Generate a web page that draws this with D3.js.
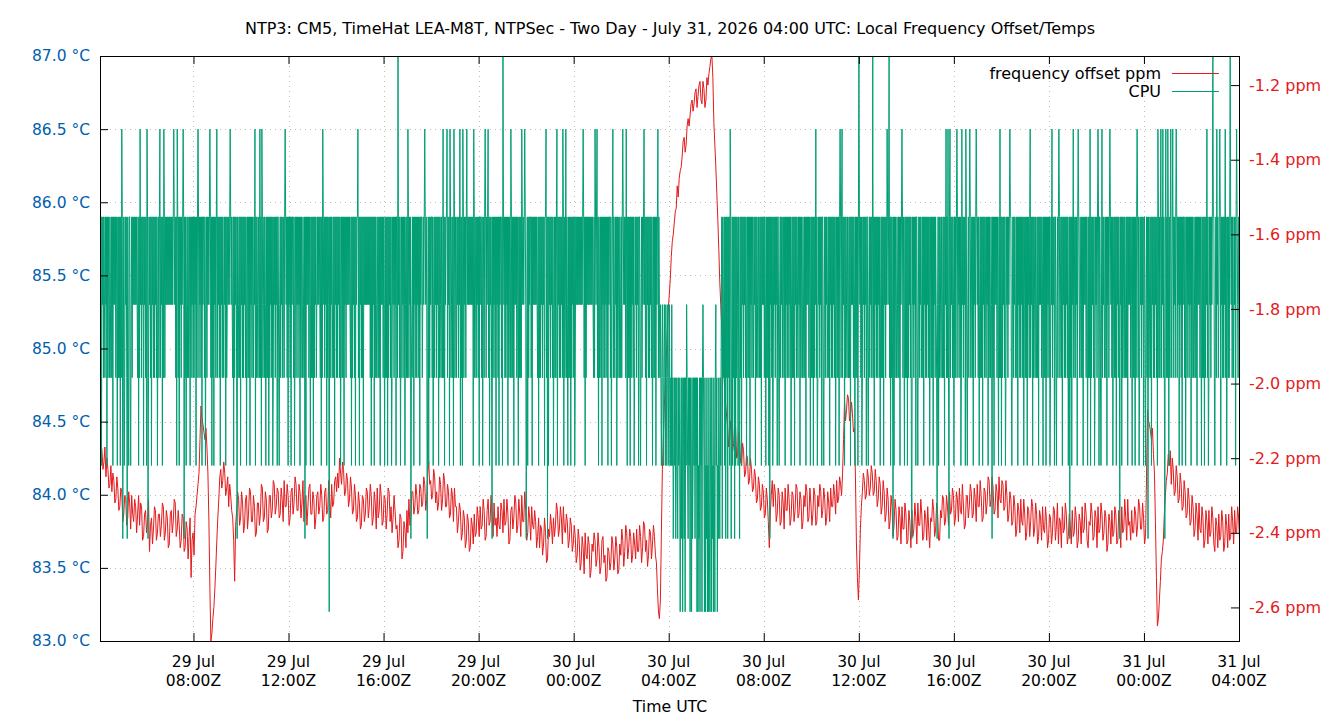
<!DOCTYPE html>
<html>
<head>
<meta charset="utf-8">
<script src="https://cdn.jsdelivr.net/npm/d3@7"></script>
<style>
body { margin: 0; background: #fff; }
text { font-family: "DejaVu Sans", sans-serif; }
</style>
</head>
<body>
<svg id="chart" width="1340" height="720"></svg>
<script>
var title = "NTP3: CM5, TimeHat LEA-M8T, NTPSec - Two Day - July 31, 2026 04:00 UTC: Local Frequency Offset/Temps";
var xLabel = "Time UTC";
var startTime = "2026-07-29T04:04:00Z",
    endTime = "2026-07-31T04:00:00Z";

var xTicks = ["2026-07-29T08:00:00Z", "2026-07-29T12:00:00Z", "2026-07-29T16:00:00Z",
              "2026-07-29T20:00:00Z", "2026-07-30T00:00:00Z", "2026-07-30T04:00:00Z",
              "2026-07-30T08:00:00Z", "2026-07-30T12:00:00Z", "2026-07-30T16:00:00Z",
              "2026-07-30T20:00:00Z", "2026-07-31T00:00:00Z", "2026-07-31T04:00:00Z"];
var tempTicks = [83.0, 83.5, 84.0, 84.5, 85.0, 85.5, 86.0, 86.5, 87.0];
var ppmTicks = [-2.6, -2.4, -2.2, -2.0, -1.8, -1.6, -1.4, -1.2];
var legendNames = ["frequency offset ppm", "CPU"];
var legendColors = ["#e41a1c", "#009e73"];

// frequency offset (ppm), one sample every 2.5 minutes from startTime
var freqStepMin = 2.5;
var freqPpm = [
-2.22,-2.16,-2.18,-2.23,-2.21,-2.17,-2.25,-2.20,-2.23,-2.28,-2.27,-2.22,-2.29,-2.24,-2.26,-2.32,-2.31,-2.25,-2.28,-2.34,
-2.33,-2.28,-2.29,-2.37,-2.35,-2.30,-2.31,-2.38,-2.36,-2.29,-2.32,-2.39,-2.30,-2.35,-2.37,-2.31,-2.33,-2.40,-2.35,-2.30,
-2.38,-2.32,-2.33,-2.42,-2.41,-2.35,-2.34,-2.40,-2.37,-2.31,-2.45,-2.38,-2.36,-2.43,-2.39,-2.33,-2.34,-2.42,-2.40,-2.35,
-2.35,-2.41,-2.38,-2.32,-2.33,-2.42,-2.40,-2.34,-2.36,-2.44,-2.43,-2.35,-2.34,-2.40,-2.37,-2.31,-2.32,-2.41,-2.39,-2.34,
-2.38,-2.44,-2.42,-2.35,-2.36,-2.45,-2.44,-2.37,-2.39,-2.47,-2.41,-2.36,-2.52,-2.42,-2.40,-2.46,-2.35,-2.33,-2.30,-2.27,
-2.24,-2.15,-2.06,-2.09,-2.11,-2.13,-2.15,-2.12,-2.17,-2.24,-2.37,-2.55,-2.69,-2.67,-2.63,-2.60,-2.55,-2.49,-2.42,-2.36,
-2.31,-2.25,-2.23,-2.28,-2.26,-2.21,-2.24,-2.30,-2.28,-2.25,-2.33,-2.27,-2.30,-2.34,-2.36,-2.42,-2.53,-2.38,-2.34,-2.29,
-2.31,-2.38,-2.36,-2.29,-2.32,-2.40,-2.38,-2.31,-2.30,-2.39,-2.35,-2.28,-2.29,-2.37,-2.37,-2.30,-2.33,-2.41,-2.40,-2.32,
-2.32,-2.38,-2.35,-2.27,-2.28,-2.37,-2.36,-2.29,-2.31,-2.40,-2.39,-2.30,-2.30,-2.36,-2.34,-2.26,-2.27,-2.35,-2.33,-2.28,
-2.29,-2.36,-2.35,-2.28,-2.31,-2.37,-2.26,-2.33,-2.33,-2.27,-2.30,-2.38,-2.36,-2.29,-2.28,-2.35,-2.32,-2.25,-2.27,-2.34,
-2.34,-2.27,-2.29,-2.36,-2.32,-2.26,-2.37,-2.31,-2.30,-2.38,-2.33,-2.28,-2.27,-2.35,-2.35,-2.29,-2.31,-2.39,-2.36,-2.30,
-2.29,-2.35,-2.33,-2.27,-2.30,-2.37,-2.36,-2.29,-2.28,-2.35,-2.34,-2.26,-2.31,-2.36,-2.27,-2.33,-2.32,-2.26,-2.25,-2.29,
-2.24,-2.28,-2.20,-2.24,-2.27,-2.21,-2.23,-2.30,-2.29,-2.24,-2.26,-2.33,-2.31,-2.25,-2.28,-2.35,-2.34,-2.27,-2.30,-2.37,
-2.36,-2.29,-2.32,-2.39,-2.38,-2.30,-2.31,-2.37,-2.35,-2.28,-2.29,-2.36,-2.33,-2.27,-2.30,-2.38,-2.36,-2.29,-2.32,-2.39,
-2.28,-2.36,-2.34,-2.27,-2.30,-2.38,-2.37,-2.30,-2.31,-2.39,-2.35,-2.28,-2.29,-2.37,-2.33,-2.40,-2.36,-2.30,-2.34,-2.39,
-2.38,-2.44,-2.42,-2.35,-2.36,-2.47,-2.45,-2.37,-2.39,-2.44,-2.34,-2.40,-2.31,-2.38,-2.36,-2.29,-2.29,-2.35,-2.33,-2.27,
-2.30,-2.35,-2.34,-2.27,-2.28,-2.33,-2.32,-2.25,-2.27,-2.34,-2.31,-2.24,-2.21,-2.27,-2.26,-2.31,-2.30,-2.23,-2.25,-2.32,
-2.29,-2.34,-2.32,-2.25,-2.27,-2.34,-2.31,-2.24,-2.26,-2.33,-2.33,-2.27,-2.29,-2.36,-2.35,-2.28,-2.30,-2.37,-2.28,-2.33,
-2.33,-2.40,-2.37,-2.32,-2.34,-2.42,-2.40,-2.34,-2.36,-2.44,-2.42,-2.35,-2.37,-2.45,-2.44,-2.36,-2.38,-2.43,-2.35,-2.41,
-2.40,-2.33,-2.36,-2.41,-2.33,-2.39,-2.38,-2.31,-2.34,-2.42,-2.41,-2.34,-2.31,-2.38,-2.37,-2.30,-2.35,-2.41,-2.32,-2.38,
-2.36,-2.41,-2.33,-2.38,-2.39,-2.32,-2.34,-2.40,-2.31,-2.38,-2.37,-2.31,-2.35,-2.43,-2.42,-2.34,-2.33,-2.39,-2.36,-2.30,
-2.32,-2.40,-2.38,-2.31,-2.35,-2.41,-2.30,-2.37,-2.37,-2.29,-2.34,-2.42,-2.40,-2.33,-2.36,-2.42,-2.33,-2.38,-2.39,-2.34,
-2.37,-2.44,-2.41,-2.36,-2.44,-2.38,-2.39,-2.46,-2.43,-2.36,-2.40,-2.48,-2.47,-2.39,-2.41,-2.35,-2.38,-2.43,-2.36,-2.41,
-2.38,-2.32,-2.34,-2.41,-2.39,-2.33,-2.36,-2.43,-2.33,-2.39,-2.40,-2.35,-2.37,-2.44,-2.42,-2.36,-2.38,-2.45,-2.43,-2.38,
-2.41,-2.48,-2.46,-2.39,-2.42,-2.50,-2.48,-2.41,-2.44,-2.51,-2.40,-2.46,-2.47,-2.41,-2.43,-2.52,-2.50,-2.43,-2.45,-2.40,
-2.42,-2.49,-2.47,-2.40,-2.44,-2.51,-2.49,-2.42,-2.41,-2.48,-2.46,-2.53,-2.52,-2.44,-2.45,-2.50,-2.48,-2.41,-2.43,-2.50,
-2.47,-2.41,-2.44,-2.51,-2.50,-2.43,-2.46,-2.39,-2.42,-2.49,-2.45,-2.38,-2.40,-2.47,-2.44,-2.39,-2.41,-2.48,-2.46,-2.40,
-2.43,-2.47,-2.39,-2.45,-2.45,-2.38,-2.41,-2.48,-2.44,-2.37,-2.38,-2.45,-2.42,-2.49,-2.46,-2.39,-2.40,-2.47,-2.43,-2.38,
-2.41,-2.46,-2.48,-2.55,-2.61,-2.63,-2.58,-2.40,-2.23,-2.14,-2.06,-1.99,-1.93,-1.86,-1.80,-1.76,-1.72,-1.66,-1.62,-1.60,
-1.57,-1.54,-1.53,-1.47,-1.50,-1.45,-1.43,-1.42,-1.39,-1.35,-1.34,-1.38,-1.36,-1.31,-1.29,-1.31,-1.28,-1.25,-1.24,-1.27,
-1.25,-1.22,-1.21,-1.26,-1.23,-1.20,-1.19,-1.24,-1.25,-1.19,-1.21,-1.26,-1.24,-1.18,-1.20,-1.17,-1.15,-1.13,-1.12,-1.18,
-1.30,-1.36,-1.42,-1.49,-1.56,-1.64,-1.73,-1.79,-1.85,-1.91,-1.97,-2.02,-2.06,-2.09,-2.12,-2.17,-2.15,-2.10,-2.13,-2.18,
-2.16,-2.11,-2.12,-2.20,-2.19,-2.13,-2.15,-2.21,-2.22,-2.16,-2.18,-2.25,-2.24,-2.19,-2.20,-2.27,-2.26,-2.20,-2.23,-2.29,
-2.28,-2.23,-2.25,-2.32,-2.31,-2.25,-2.27,-2.34,-2.33,-2.27,-2.29,-2.36,-2.35,-2.28,-2.31,-2.37,-2.44,-2.35,-2.30,-2.26,
-2.33,-2.27,-2.29,-2.37,-2.35,-2.28,-2.30,-2.38,-2.37,-2.29,-2.32,-2.39,-2.28,-2.34,-2.34,-2.27,-2.31,-2.38,-2.36,-2.29,
-2.30,-2.37,-2.34,-2.27,-2.28,-2.36,-2.35,-2.29,-2.31,-2.39,-2.37,-2.30,-2.33,-2.27,-2.29,-2.37,-2.36,-2.28,-2.32,-2.38,
-2.35,-2.28,-2.30,-2.38,-2.37,-2.30,-2.33,-2.27,-2.29,-2.36,-2.34,-2.28,-2.31,-2.38,-2.36,-2.29,-2.32,-2.37,-2.28,-2.33,
-2.33,-2.27,-2.30,-2.35,-2.26,-2.32,-2.31,-2.25,-2.27,-2.30,-2.24,-2.15,-2.05,-2.10,-2.07,-2.03,-2.04,-2.10,-2.09,-2.05,
-2.08,-2.13,-2.12,-2.25,-2.43,-2.52,-2.58,-2.50,-2.39,-2.33,-2.29,-2.24,-2.26,-2.31,-2.30,-2.23,-2.25,-2.30,-2.28,-2.22,
-2.24,-2.30,-2.29,-2.23,-2.26,-2.33,-2.31,-2.25,-2.27,-2.35,-2.33,-2.26,-2.29,-2.37,-2.35,-2.28,-2.31,-2.39,-2.37,-2.30,
-2.33,-2.41,-2.38,-2.31,-2.34,-2.42,-2.41,-2.33,-2.36,-2.43,-2.33,-2.39,-2.39,-2.32,-2.35,-2.43,-2.42,-2.34,-2.37,-2.44,
-2.34,-2.41,-2.39,-2.32,-2.36,-2.43,-2.32,-2.38,-2.38,-2.31,-2.35,-2.42,-2.41,-2.34,-2.36,-2.42,-2.33,-2.39,-2.44,-2.36,
-2.37,-2.31,-2.34,-2.41,-2.39,-2.32,-2.35,-2.42,-2.42,-2.34,-2.36,-2.30,-2.31,-2.38,-2.37,-2.30,-2.33,-2.38,-2.29,-2.35,
-2.34,-2.28,-2.30,-2.38,-2.36,-2.29,-2.31,-2.37,-2.28,-2.34,-2.35,-2.27,-2.32,-2.39,-2.38,-2.30,-2.30,-2.36,-2.33,-2.27,
-2.29,-2.36,-2.35,-2.28,-2.31,-2.37,-2.27,-2.33,-2.33,-2.26,-2.30,-2.37,-2.36,-2.28,-2.29,-2.35,-2.32,-2.25,-2.26,-2.33,
-2.31,-2.25,-2.28,-2.35,-2.34,-2.27,-2.29,-2.36,-2.25,-2.31,-2.32,-2.26,-2.27,-2.34,-2.33,-2.26,-2.30,-2.37,-2.35,-2.29,
-2.31,-2.38,-2.37,-2.30,-2.33,-2.41,-2.39,-2.32,-2.34,-2.40,-2.31,-2.37,-2.38,-2.31,-2.35,-2.42,-2.40,-2.33,-2.34,-2.41,
-2.37,-2.31,-2.33,-2.41,-2.39,-2.32,-2.35,-2.43,-2.41,-2.34,-2.36,-2.42,-2.33,-2.39,-2.40,-2.33,-2.37,-2.44,-2.42,-2.35,
-2.36,-2.43,-2.40,-2.33,-2.34,-2.42,-2.38,-2.32,-2.43,-2.36,-2.37,-2.44,-2.33,-2.40,-2.39,-2.32,-2.35,-2.43,-2.41,-2.35,
-2.38,-2.43,-2.34,-2.41,-2.40,-2.33,-2.36,-2.44,-2.42,-2.35,-2.37,-2.43,-2.33,-2.40,-2.39,-2.32,-2.35,-2.42,-2.44,-2.37,
-2.38,-2.32,-2.35,-2.42,-2.41,-2.34,-2.36,-2.44,-2.33,-2.40,-2.39,-2.32,-2.35,-2.42,-2.40,-2.34,-2.36,-2.45,-2.43,-2.35,
-2.37,-2.43,-2.34,-2.41,-2.40,-2.33,-2.35,-2.43,-2.42,-2.34,-2.38,-2.44,-2.33,-2.40,-2.39,-2.31,-2.36,-2.42,-2.31,-2.38,
-2.37,-2.42,-2.34,-2.40,-2.40,-2.33,-2.35,-2.41,-2.38,-2.31,-2.33,-2.39,-2.39,-2.32,-2.36,-2.43,-2.41,-2.25,-2.07,-2.10,
-2.11,-2.13,-2.15,-2.12,-2.19,-2.24,-2.37,-2.52,-2.65,-2.63,-2.58,-2.53,-2.47,-2.45,-2.42,-2.35,-2.30,-2.26,-2.24,-2.19,
-2.22,-2.18,-2.27,-2.20,-2.23,-2.30,-2.29,-2.22,-2.25,-2.32,-2.31,-2.24,-2.27,-2.34,-2.33,-2.26,-2.29,-2.36,-2.35,-2.28,
-2.31,-2.38,-2.37,-2.30,-2.33,-2.41,-2.39,-2.32,-2.35,-2.42,-2.32,-2.39,-2.40,-2.33,-2.36,-2.44,-2.42,-2.34,-2.37,-2.43,
-2.34,-2.41,-2.40,-2.33,-2.36,-2.43,-2.45,-2.36,-2.38,-2.44,-2.35,-2.42,-2.41,-2.34,-2.37,-2.45,-2.43,-2.35,-2.38,-2.44,
-2.35,-2.42,-2.41,-2.33,-2.37,-2.43,-2.34,-2.40,-2.40,-2.33,-2.36,-2.42
];

// CPU temperature, one sample every 1.25 minutes, stored as an index into cpuLevels
var cpuStepMin = 1.25;
var cpuLevels = [83.2, 83.7, 84.2, 84.8, 85.3, 85.9, 86.5, 87.1];
var cpuRows = [
"5352545354 3545253543 5435352545 4535425353 5253651352 3545315325 5324535454 5454543525 3645354525 4535265135",
"4535254535 3545352453 5635452536 5354545454 5454545456 5453526535 2545354565 1535245353 4525354535 3545253565",
"3545352545 5352453545 4565352535 2545356354 5352545354 3545253454 5456545435 2535453153 4535254535 3545352453",
"5352545354 3546253543 5436352653 4535425353 5253545352 3545354525 5324535453 4535654535 2545352545 5352453545",
"3545253543 5435152545 4535425353 5253545345 4545435253 6545354525 3540535453 4535254535 3545352453 5352545354",
"5454543525 3545352545 5635254535 3525454545 4545453525 3545253543 5435352545 4535425353 5253545352 3545354525",
"5374535245 3545352453 5365354513 4535254535 3545352545 5345456545 4135253545 5352453545 3545253543 5436352545",
"5635452653 4535265354 3545354625 3526535453 5645454545 4545265354 3545352545 5352453565 3545635254 5315354535",
"2545352545 5352754535 3545253543 6535352545 4535425353 5365454565 4135253545 5352545454 5454352535 3545354525",
"5635152545 3545352453 5356254535 3545365253 4635425353 5253545352 3545454545 4545456535 2535454545 4545454353",
"6545635253 4535254535 3545352545 5352456354 3545253543 5435356545 4536425353 5253545352 3545354525 5324535456",
"4535254535 3545352453 5352545635 4343234323 4324323432 4323242312 3231232132 3202313023 1303243213 2303203123",
"2313230302 1303230343 2030213020 3102303120 3203423021 3213245153 4525153515 3526513525 3515253542 5315352545",
"3545352453 5352545354 3545253543 5435352545 4535425353 5251545352 3545354525 5324535453 4535254535 3545352453",
"5352545354 3545253543 5435352545 4535425353 5253546352 3545354525 5324535453 4535254535 3545352453 5352565356",
"3545253543 5435352545 4535425353 5257545352 3545354525 5324535453 4735254535 3545352453 5352545354 6545735253",
"5315253543 5435352545 6535425353 5253545352 1545354525 5324535453 4535254535 3545352453 5352545354 3145253543",
"5435352546 3536315635 4535425353 5653545352 3645354526 5324535653 4535254535 6545352453 5352545354 3545253543",
"5415352545 4535425363 5253545352 3545354565 5324535453 4535254535 3545352453 5352545356 3545253543 5435352545",
"4535425353 5253545352 3546354525 5324535653 4535254535 3545352451 5352546354 3545256543 5435352545 4535425353",
"6253545352 3545356525 5324635453 4535254535 6545352453 5352545354 1545253543 5435352545 4535425353 5253565352",
"3545354525 5324535153 4535254535 3545352653 5356354635 3156353652 5356345635 4535653545 2545352545 5352453545",
"3545253543 5435352545 4535425353 5253546352 3545354575 5324536453 4565254535 3546352453 5357545354 3545256543",
"54"
];
var cpuCodes = cpuRows.join("").replace(/ /g, "");

var svg = d3.select("#chart");
var margin = {top: 56, right: 101, bottom: 79, left: 100},
    width = 1340 - margin.left - margin.right,
    height = 720 - margin.top - margin.bottom;

var g = svg.append("g")
    .attr("transform", "translate(" + margin.left + "," + margin.top + ")");

var t0 = new Date(startTime).getTime();
var x = d3.scaleUtc()
    .domain([new Date(startTime), new Date(endTime)])
    .range([0, width]);
var yTemp = d3.scaleLinear().domain([83, 87]).range([height, 0]);
var yPpm = d3.scaleLinear().domain([-2.69, -1.122]).range([height, 0]);

var freqData = freqPpm.map(function(v, i) {
    return {t: new Date(t0 + i * freqStepMin * 60000), v: v};
});
var cpuData = cpuCodes.split("").map(function(c, i) {
    return {t: new Date(t0 + i * cpuStepMin * 60000), v: cpuLevels[+c]};
});

// grid
g.append("g")
    .selectAll("line")
    .data(tempTicks.slice(1, -1))
    .join("line")
    .attr("x1", 0).attr("x2", width)
    .attr("y1", function(d) { return Math.round(yTemp(d)) + 0.5; })
    .attr("y2", function(d) { return Math.round(yTemp(d)) + 0.5; })
    .attr("stroke", "#bdbdbd")
    .attr("stroke-dasharray", "1,4");
g.append("g")
    .selectAll("line")
    .data(xTicks.slice(0, -1))
    .join("line")
    .attr("x1", function(d) { return Math.round(x(new Date(d))) + 0.5; })
    .attr("x2", function(d) { return Math.round(x(new Date(d))) + 0.5; })
    .attr("y1", 0).attr("y2", height)
    .attr("stroke", "#bdbdbd")
    .attr("stroke-dasharray", "1,4");

g.append("clipPath").attr("id", "plotclip")
  .append("rect").attr("width", width).attr("height", height);

// frequency offset
g.append("path")
    .datum(freqData)
    .attr("clip-path", "url(#plotclip)")
    .attr("fill", "none")
    .attr("stroke", legendColors[0])
    .attr("stroke-width", 1)
    .attr("d", d3.line().x(function(d) { return x(d.t); }).y(function(d) { return yPpm(d.v); }));

// CPU temperature
g.append("path")
    .datum(cpuData)
    .attr("clip-path", "url(#plotclip)")
    .attr("fill", "none")
    .attr("stroke", legendColors[1])
    .attr("stroke-width", 1)
    .attr("d", d3.line().x(function(d) { return x(d.t); }).y(function(d) { return yTemp(d.v); }));

// left axis
g.append("g")
    .call(d3.axisLeft(yTemp).tickValues(tempTicks)
        .tickFormat(function(d) { return d.toFixed(1) + " °C"; })
        .tickSizeInner(-8).tickSizeOuter(0).tickPadding(10))
    .call(function(a) { a.select(".domain").remove(); })
    .call(function(a) {
        a.selectAll("text").attr("fill", "#0060ad").style("font-size", "15.5px");
    });

// right axis
g.append("g")
    .attr("transform", "translate(" + width + ",0)")
    .call(d3.axisRight(yPpm).tickValues(ppmTicks)
        .tickFormat(function(d) { return d.toFixed(1) + " ppm"; })
        .tickSizeInner(-8).tickSizeOuter(0).tickPadding(10))
    .call(function(a) { a.select(".domain").remove(); })
    .call(function(a) {
        a.selectAll("text").attr("fill", "#e41a1c").style("font-size", "16px");
    });

// bottom and top axes
g.append("g")
    .attr("transform", "translate(0," + height + ")")
    .call(d3.axisBottom(x).tickValues(xTicks.map(function(d) { return new Date(d); }))
        .tickFormat("").tickSizeInner(-8).tickSizeOuter(0))
    .call(function(a) { a.select(".domain").remove(); });
g.append("g")
    .call(d3.axisTop(x).tickValues(xTicks.map(function(d) { return new Date(d); }))
        .tickFormat("").tickSizeInner(-8).tickSizeOuter(0))
    .call(function(a) { a.select(".domain").remove(); });

var dayFmt = d3.utcFormat("%d %b"), hourFmt = d3.utcFormat("%H:%MZ");
var xLab = g.append("g").selectAll("text")
    .data(xTicks)
    .join("text")
    .attr("text-anchor", "middle")
    .style("font-size", "15.5px")
    .attr("fill", "#000");
xLab.append("tspan")
    .attr("x", function(d) { return x(new Date(d)); })
    .attr("y", height + 26)
    .text(function(d) { return dayFmt(new Date(d)); });
xLab.append("tspan")
    .attr("x", function(d) { return x(new Date(d)); })
    .attr("y", height + 45)
    .text(function(d) { return hourFmt(new Date(d)); });

// border
g.append("rect")
    .attr("x", 0.5).attr("y", 0.5)
    .attr("width", width).attr("height", height)
    .attr("fill", "none").attr("stroke", "#000");

// legend
var leg = g.append("g");
legendNames.forEach(function(name, i) {
    var ly = 17 + i * 18;
    leg.append("text")
        .attr("x", 1061).attr("y", ly + 6)
        .attr("text-anchor", "end")
        .style("font-size", "16px")
        .text(name);
    leg.append("line")
        .attr("x1", 1072).attr("x2", 1119)
        .attr("y1", ly + 0.5).attr("y2", ly + 0.5)
        .attr("stroke", legendColors[i])
        .attr("stroke-width", 1);
});

// titles
svg.append("text")
    .attr("x", 670).attr("y", 34)
    .attr("text-anchor", "middle")
    .style("font-size", "16px")
    .text(title);
svg.append("text")
    .attr("x", 670).attr("y", 712)
    .attr("text-anchor", "middle")
    .style("font-size", "15.7px")
    .text(xLabel);
</script>
</body>
</html>
